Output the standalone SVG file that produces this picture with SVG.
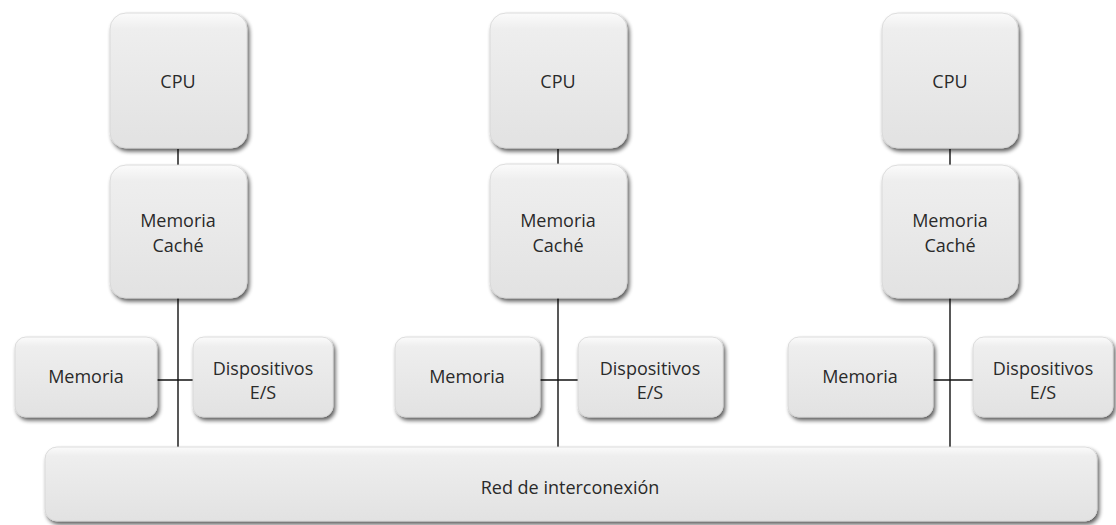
<svg xmlns="http://www.w3.org/2000/svg" width="1116" height="525" viewBox="0 0 1116 525">
  <defs>
    <linearGradient id="fillG" x1="0" y1="0" x2="0" y2="1">
      <stop offset="0" stop-color="#fbfbfb"/>
      <stop offset="0.12" stop-color="#eeeeee"/>
      <stop offset="1" stop-color="#e2e2e2"/>
    </linearGradient>
    <filter id="shadow" x="-10%" y="-10%" width="125%" height="130%">
      <feGaussianBlur in="SourceAlpha" stdDeviation="2"/>
      <feOffset dx="2" dy="3" result="b"/>
      <feComponentTransfer><feFuncA type="linear" slope="0.65"/></feComponentTransfer>
      <feMerge><feMergeNode/><feMergeNode in="SourceGraphic"/></feMerge>
    </filter>
  </defs>
  <style>
    .box { fill: url(#fillG); stroke: #d6d6d6; stroke-width: 0.8; filter: url(#shadow); }
    .lbl { font-family: "Open Sans", "Liberation Sans", sans-serif; font-size: 18px; fill: #2a2a2a; text-anchor: middle; }
    .wire { stroke: #111111; stroke-width: 1.4; fill: none; }
  </style>
  <rect width="1116" height="525" fill="#ffffff"/>

  <g id="connectors">
    <line class="wire" x1="178" y1="149" x2="178" y2="165"/>
    <line class="wire" x1="178" y1="298" x2="178" y2="448"/>
    <line class="wire" x1="157" y1="380" x2="193" y2="380"/>
    <line class="wire" x1="558" y1="149" x2="558" y2="164"/>
    <line class="wire" x1="558" y1="298" x2="558" y2="448"/>
    <line class="wire" x1="540" y1="380" x2="578" y2="380"/>
    <line class="wire" x1="950" y1="149" x2="950" y2="165"/>
    <line class="wire" x1="950" y1="298" x2="950" y2="448"/>
    <line class="wire" x1="933" y1="380" x2="973" y2="380"/>
  </g>

  <g id="cpu1"><rect class="box" x="110" y="13" width="137" height="135" rx="16"/><text class="lbl" x="178" y="88">CPU</text></g>
  <g id="cpu2"><rect class="box" x="490" y="13" width="137" height="135" rx="16"/><text class="lbl" x="558" y="88">CPU</text></g>
  <g id="cpu3"><rect class="box" x="882" y="13" width="136" height="135" rx="16"/><text class="lbl" x="950" y="88">CPU</text></g>

  <g id="cache1"><rect class="box" x="110" y="165" width="137" height="133" rx="16"/><text class="lbl" x="178" y="227">Memoria</text><text class="lbl" x="178" y="252">Caché</text></g>
  <g id="cache2"><rect class="box" x="490" y="164" width="137" height="134" rx="16"/><text class="lbl" x="558" y="227">Memoria</text><text class="lbl" x="558" y="252">Caché</text></g>
  <g id="cache3"><rect class="box" x="882" y="165" width="136" height="133" rx="16"/><text class="lbl" x="950" y="227">Memoria</text><text class="lbl" x="950" y="252">Caché</text></g>

  <g id="mem1"><rect class="box" x="15" y="337" width="142" height="80" rx="11"/><text class="lbl" x="86" y="383">Memoria</text></g>
  <g id="io1"><rect class="box" x="193" y="337" width="140" height="80" rx="11"/><text class="lbl" x="263" y="375">Dispositivos</text><text class="lbl" x="263" y="399">E/S</text></g>
  <g id="mem2"><rect class="box" x="395" y="337" width="145" height="80" rx="11"/><text class="lbl" x="467" y="383">Memoria</text></g>
  <g id="io2"><rect class="box" x="578" y="337" width="145" height="80" rx="11"/><text class="lbl" x="650" y="375">Dispositivos</text><text class="lbl" x="650" y="399">E/S</text></g>
  <g id="mem3"><rect class="box" x="788" y="337" width="145" height="80" rx="11"/><text class="lbl" x="860" y="383">Memoria</text></g>
  <g id="io3"><rect class="box" x="973" y="337" width="140" height="80" rx="11"/><text class="lbl" x="1043" y="375">Dispositivos</text><text class="lbl" x="1043" y="399">E/S</text></g>

  <g id="network"><rect class="box" x="45" y="447" width="1052" height="74" rx="12"/><text class="lbl" x="570" y="494">Red de interconexión</text></g>
</svg>
